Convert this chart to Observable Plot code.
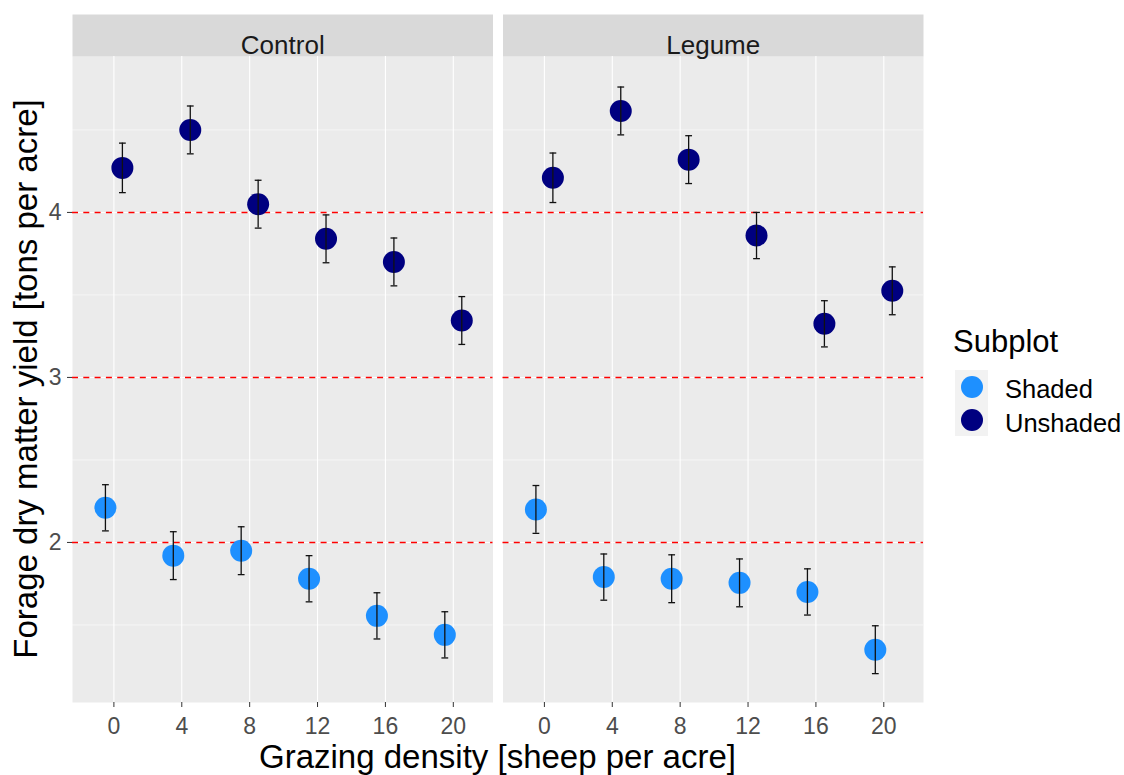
<!DOCTYPE html>
<html><head><meta charset="utf-8">
<script src="https://cdn.jsdelivr.net/npm/d3@7"></script>
<script src="https://cdn.jsdelivr.net/npm/@observablehq/plot@0.6"></script>
<style>
body{margin:0;background:#fff;font-family:"Liberation Sans",Arial,sans-serif;}
#wrap{position:relative;width:1124px;height:775px;overflow:hidden;background:#fff}
#chart{position:absolute;left:0;top:0}
.lbl{position:absolute;white-space:nowrap;color:#000;font-size:33px;line-height:33px;height:33px}
#xt{left:0;top:740px;width:995px;text-align:center}
#yt{left:0;top:0;width:760px;text-align:center;transform-origin:0 0;transform:translate(9px,759px) rotate(-90deg)}
#legTitle{position:absolute;left:953px;top:326px;font-size:31px;line-height:31px;color:#000}
.keybg{position:absolute;left:955px;width:33px;height:33px;background:#F2F2F2}
.keydot{position:absolute;left:5.5px;top:5.5px;width:22px;height:22px;border-radius:50%}
.keylab{position:absolute;left:1005px;font-size:25.5px;line-height:25px;color:#000;white-space:nowrap}
</style></head><body>
<div id="wrap"><div id="chart"></div>
<div class="lbl" id="xt">Grazing density [sheep per acre]</div>
<div class="lbl" id="yt">Forage dry matter yield [tons per acre]</div>
<div id="legTitle">Subplot</div>
</div>
<script>
// ---- data ----
const treatments = ["Control", "Legume"];
const subplots = ["Shaded", "Unshaded"];
const subplotColors = ["#1E90FF", "#000080"];
const densities = [0, 4, 8, 12, 16, 20];
const controlShaded     = [2.21, 1.92, 1.95, 1.78, 1.555, 1.44];
const controlShadedSE   = [0.14, 0.145, 0.145, 0.14, 0.14, 0.14];
const controlUnshaded   = [4.27, 4.50, 4.05, 3.84, 3.70, 3.345];
const controlUnshadedSE = [0.15, 0.145, 0.145, 0.145, 0.145, 0.145];
const legumeShaded      = [2.20, 1.79, 1.78, 1.755, 1.70, 1.35];
const legumeShadedSE    = [0.145, 0.14, 0.145, 0.145, 0.14, 0.145];
const legumeUnshaded    = [4.21, 4.615, 4.32, 3.86, 3.325, 3.525];
const legumeUnshadedSE  = [0.15, 0.145, 0.145, 0.14, 0.14, 0.145];
const xTicks = [0, 4, 8, 12, 16, 20];
const yTicks = [2, 3, 4];
const yMinor = [1.5, 2.5, 3.5, 4.5];
const refLines = [2, 3, 4];
const dodge = {Shaded: -0.5, Unshaded: 0.5};

const series = [
  ["Control", "Shaded", controlShaded, controlShadedSE],
  ["Control", "Unshaded", controlUnshaded, controlUnshadedSE],
  ["Legume", "Shaded", legumeShaded, legumeShadedSE],
  ["Legume", "Unshaded", legumeUnshaded, legumeUnshadedSE]
];
const rows = series.flatMap(([treatment, subplot, vals, ses]) =>
  densities.map((density, i) => ({treatment, subplot, density, value: vals[i], se: ses[i]})));
const xpos = d => d.density + dodge[d.subplot];

const plot = Plot.plot({
  width: 940, height: 775,
  marginLeft: 72, marginRight: 17, marginTop: 56, marginBottom: 73,
  style: {fontFamily: '"Liberation Sans", Arial, sans-serif', background: "transparent", overflow: "visible"},
  fx: {domain: treatments, paddingInner: 0.0232, paddingOuter: 0, round: false, axis: null, label: null},
  x: {domain: [-2.44, 22.34], label: null},
  y: {domain: [1.03, 4.945], label: null},
  color: {domain: subplots, range: subplotColors},
  marks: [
    Plot.frame({fill: "#EBEBEB", stroke: null}),
    Plot.frame({fill: "#D9D9D9", stroke: null, insetTop: -42, insetBottom: 646}),
    Plot.gridY(yMinor, {stroke: "white", strokeOpacity: 1, strokeWidth: 0.55}),
    Plot.gridY(yTicks, {stroke: "white", strokeOpacity: 1, strokeWidth: 1.1}),
    Plot.gridX(xTicks, {stroke: "white", strokeOpacity: 1, strokeWidth: 1.1}),
    Plot.ruleY(refLines, {stroke: "#FF0000", strokeWidth: 1.4, strokeDasharray: "6,5.3"}),
    Plot.dot(rows, {fx: "treatment", x: xpos, y: "value", fill: "subplot", r: 11}),
    Plot.ruleX(rows, {fx: "treatment", x: xpos, y1: d => d.value - d.se, y2: d => d.value + d.se, stroke: "#111", strokeWidth: 1.3}),
    Plot.link(rows, {fx: "treatment", x1: d => xpos(d) - 0.2, x2: d => xpos(d) + 0.2, y1: d => d.value + d.se, y2: d => d.value + d.se, stroke: "#111", strokeWidth: 1.3}),
    Plot.link(rows, {fx: "treatment", x1: d => xpos(d) - 0.2, x2: d => xpos(d) + 0.2, y1: d => d.value - d.se, y2: d => d.value - d.se, stroke: "#111", strokeWidth: 1.3}),
    Plot.text(treatments, {fx: d => d, text: d => d, frameAnchor: "top", dy: -21, fontSize: 26, fill: "#1A1A1A"}),
    Plot.axisX(xTicks, {tickSize: 5, tickPadding: 10, fontSize: 23, stroke: "#333333", fill: "#4D4D4D", label: null, tickFormat: d => String(d)}),
    Plot.axisY(yTicks, {tickSize: 5, tickPadding: 6, fontSize: 23, stroke: "#333333", fill: "#4D4D4D", label: null, tickFormat: d => String(d)})
  ]
});
document.getElementById("chart").appendChild(plot);

// ---- legend ----
const wrap = document.getElementById("wrap");
const keyTops = [370, 403.3];
const labTops = [377, 410.5];
subplots.forEach((s, i) => {
  const bg = document.createElement("div");
  bg.className = "keybg";
  bg.style.top = keyTops[i] + "px";
  const dot = document.createElement("div");
  dot.className = "keydot";
  dot.style.background = subplotColors[i];
  bg.appendChild(dot);
  wrap.appendChild(bg);
  const lab = document.createElement("div");
  lab.className = "keylab";
  lab.style.top = labTops[i] + "px";
  lab.textContent = s;
  wrap.appendChild(lab);
});
</script>
</body></html>
